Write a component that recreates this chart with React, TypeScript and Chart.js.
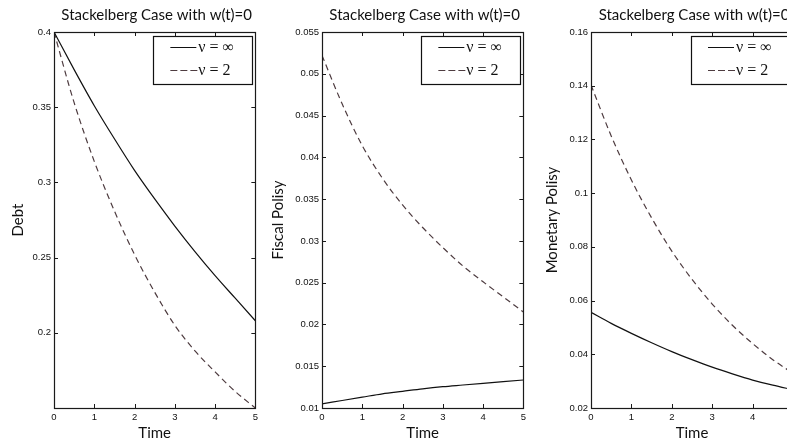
import React, { useEffect, useRef } from 'react';
import { Chart, registerables } from 'chart.js';

Chart.register(...registerables);

// ---- data ----
const TIME = [0, 0.5, 1, 1.5, 2, 2.5, 3, 3.5, 4, 4.5, 5];

const DEBT_NU_INF = [0.4, 0.375, 0.351, 0.329, 0.308, 0.289, 0.271, 0.254, 0.238, 0.223, 0.208];
const DEBT_NU_2 = [0.4, 0.353, 0.314, 0.281, 0.252, 0.227, 0.205, 0.188, 0.174, 0.161, 0.15];

const FISCAL_NU_INF = [0.0105, 0.0109, 0.0113, 0.0117, 0.012, 0.0123, 0.01255, 0.01275, 0.01295, 0.01315, 0.01335];
const FISCAL_NU_2 = [0.0522, 0.0464, 0.0414, 0.0375, 0.0343, 0.0316, 0.0292, 0.027, 0.0251, 0.0233, 0.0215];

const MONETARY_NU_INF = [0.0556, 0.0515, 0.0478, 0.0443, 0.041, 0.038, 0.0352, 0.0327, 0.0304, 0.0285, 0.0268];
const MONETARY_NU_2 = [0.1403, 0.1213, 0.1049, 0.0908, 0.0784, 0.0679, 0.0587, 0.0508, 0.044, 0.038, 0.0329];

const X_TICKS = [0, 1, 2, 3, 4, 5];
const DEBT_TICKS = [0.15, 0.2, 0.25, 0.3, 0.35, 0.4];
const DEBT_TICK_LABELS = ['', '0.2', '0.25', '0.3', '0.35', '0.4'];
const FISCAL_TICKS = [0.01, 0.015, 0.02, 0.025, 0.03, 0.035, 0.04, 0.045, 0.05, 0.055];
const FISCAL_TICK_LABELS = ['0.01', '0.015', '0.02', '0.025', '0.03', '0.035', '0.04', '0.045', '0.05', '0.055'];
const MONETARY_TICKS = [0.02, 0.04, 0.06, 0.08, 0.1, 0.12, 0.14, 0.16];
const MONETARY_TICK_LABELS = ['0.02', '0.04', '0.06', '0.08', '0.1', '0.12', '0.14', '0.16'];

const SERIES_LABELS = ['ν = ∞', 'ν = 2'];
const TITLE = 'Stackelberg Case with w(t)=0';
const X_LABEL = 'Time';
const Y_LABELS = ['Debt', 'Fiscal Polisy', 'Monetary Polisy'];

const SOLID_COLOR = '#111111';
const DASH_COLOR = '#4e3c40';
const DASH = [6, 4];

type PanelCfg = {
  left: number;
  width: number;
  yWidth: number;
  rightPad: number;
  yTitlePad: number;
  solid: number[];
  dashed: number[];
  ticks: number[];
  tickLabels: string[];
  yLabel: string;
};

const PANELS: PanelCfg[] = [
  { left: 0, width: 262, yWidth: 54, rightPad: 5, yTitlePad: 9, solid: DEBT_NU_INF, dashed: DEBT_NU_2, ticks: DEBT_TICKS, tickLabels: DEBT_TICK_LABELS, yLabel: Y_LABELS[0] },
  { left: 262, width: 268, yWidth: 60, rightPad: 4, yTitlePad: 7, solid: FISCAL_NU_INF, dashed: FISCAL_NU_2, ticks: FISCAL_TICKS, tickLabels: FISCAL_TICK_LABELS, yLabel: Y_LABELS[1] },
  { left: 530, width: 270, yWidth: 61, rightPad: 7, yTitlePad: 13, solid: MONETARY_NU_INF, dashed: MONETARY_NU_2, ticks: MONETARY_TICKS, tickLabels: MONETARY_TICK_LABELS, yLabel: Y_LABELS[2] },
];

const H = 443;

const framePlugin = {
  id: 'frameTicks',
  afterDatasetsDraw(chart: any) {
    const { ctx, chartArea } = chart;
    const { left, right, top, bottom } = chartArea;
    const x = chart.scales.x;
    const y = chart.scales.y;
    ctx.save();
    ctx.strokeStyle = '#1a1a1a';
    ctx.lineWidth = 1;
    ctx.beginPath();
    x.ticks.forEach((t: any) => {
      const px = Math.round(x.getPixelForValue(t.value)) + 0.5;
      ctx.moveTo(px, bottom);
      ctx.lineTo(px, bottom - 4);
      ctx.moveTo(px, top);
      ctx.lineTo(px, top + 4);
    });
    y.ticks.forEach((t: any) => {
      const py = Math.round(y.getPixelForValue(t.value)) + 0.5;
      ctx.moveTo(left, py);
      ctx.lineTo(left + 4, py);
      ctx.moveTo(right, py);
      ctx.lineTo(right - 4, py);
    });
    ctx.stroke();
    ctx.lineWidth = 1.2;
    ctx.strokeRect(Math.round(left) + 0.5, Math.round(top) + 0.5, Math.round(right - left), Math.round(bottom - top));
    ctx.restore();
  },
};

const legendTitlePlugin = {
  id: 'legendTitle',
  afterDraw(chart: any) {
    const { ctx, chartArea } = chart;
    const { left, right, top } = chartArea;
    ctx.save();
    // title
    ctx.fillStyle = '#111';
    ctx.font = '15px Lato, "Open Sans", sans-serif';
    ctx.textAlign = 'center';
    ctx.textBaseline = 'middle';
    ctx.fillText(TITLE, (left + right) / 2 + 2, 15);

    // legend box
    const bw = 99;
    const bh = 48;
    const bx = right - 3 - bw;
    const by = top + 4;
    ctx.fillStyle = '#ffffff';
    ctx.fillRect(bx, by, bw, bh);
    ctx.strokeStyle = '#111';
    ctx.lineWidth = 1.2;
    ctx.strokeRect(Math.round(bx) + 0.5, Math.round(by) + 0.5, bw, bh);

    const rows = [by + 11, by + 34];
    const lineX0 = bx + 17;
    const lineX1 = bx + 43;
    ctx.lineWidth = 1;
    // solid
    ctx.strokeStyle = SOLID_COLOR;
    ctx.setLineDash([]);
    ctx.beginPath();
    ctx.moveTo(lineX0, rows[0] + 0.5);
    ctx.lineTo(lineX1, rows[0] + 0.5);
    ctx.stroke();
    // dashed
    ctx.strokeStyle = DASH_COLOR;
    ctx.setLineDash([7, 3]);
    ctx.beginPath();
    ctx.moveTo(lineX0, rows[1] + 0.5);
    ctx.lineTo(lineX1 + 2, rows[1] + 0.5);
    ctx.stroke();
    ctx.setLineDash([]);

    ctx.fillStyle = '#111';
    ctx.font = '16px "Liberation Serif", "DejaVu Serif", serif';
    ctx.textAlign = 'left';
    ctx.textBaseline = 'middle';
    ctx.fillText(SERIES_LABELS[0], bx + 45, rows[0] + 1);
    ctx.fillText(SERIES_LABELS[1], bx + 45, rows[1] + 1);
    ctx.restore();
  },
};

function Panel({ cfg }: { cfg: PanelCfg }) {
  const ref = useRef<HTMLCanvasElement | null>(null);
  useEffect(() => {
    if (!ref.current) return;
    const chart = new Chart(ref.current, {
      type: 'line',
      data: {
        datasets: [
          {
            label: SERIES_LABELS[0],
            data: TIME.map((t, i) => ({ x: t, y: cfg.solid[i] })),
            borderColor: SOLID_COLOR,
            borderWidth: 1.2,
            pointRadius: 0,
            fill: false,
            cubicInterpolationMode: 'monotone',
          },
          {
            label: SERIES_LABELS[1],
            data: TIME.map((t, i) => ({ x: t, y: cfg.dashed[i] })),
            borderColor: DASH_COLOR,
            borderWidth: 1.2,
            borderDash: DASH,
            pointRadius: 0,
            fill: false,
            cubicInterpolationMode: 'monotone',
          },
        ],
      },
      options: {
        animation: false,
        responsive: false,
        maintainAspectRatio: false,
        devicePixelRatio: 1,
        layout: { padding: { left: 0, right: cfg.rightPad, top: 32, bottom: 0 } },
        plugins: {
          legend: { display: false },
          tooltip: { enabled: false },
          title: { display: false },
        },
        scales: {
          x: {
            type: 'linear',
            min: 0,
            max: 5,
            afterBuildTicks: (s: any) => {
              s.ticks = X_TICKS.map((v) => ({ value: v }));
            },
            afterFit: (s: any) => {
              s.height = 35;
            },
            grid: { display: false, drawTicks: false },
            border: { display: false },
            ticks: {
              font: { family: '"Liberation Sans", Arial, sans-serif', size: 9.5 },
              color: '#111',
              padding: 4,
              maxRotation: 0,
              autoSkip: false,
              callback: (v: any) => String(v),
            },
            title: {
              display: true,
              text: X_LABEL,
              font: { family: 'Lato, "Open Sans", sans-serif', size: 15 },
              color: '#111',
              padding: { top: 0, bottom: 1 },
            },
          },
          y: {
            type: 'linear',
            min: cfg.ticks[0],
            max: cfg.ticks[cfg.ticks.length - 1],
            afterBuildTicks: (s: any) => {
              s.ticks = cfg.ticks.map((v) => ({ value: v }));
            },
            afterFit: (s: any) => {
              s.width = cfg.yWidth;
            },
            grid: { display: false, drawTicks: false },
            border: { display: false },
            ticks: {
              font: { family: '"Liberation Sans", Arial, sans-serif', size: 9.5 },
              color: '#111',
              padding: 3,
              autoSkip: false,
              callback: (v: any) => {
                const idx = cfg.ticks.findIndex((t) => Math.abs(t - v) < 1e-9);
                return idx >= 0 ? cfg.tickLabels[idx] : '';
              },
            },
            title: {
              display: true,
              text: cfg.yLabel,
              font: { family: 'Lato, "Open Sans", sans-serif', size: 15 },
              color: '#111',
              padding: { top: cfg.yTitlePad, bottom: 0 },
            },
          },
        },
      },
      plugins: [framePlugin, legendTitlePlugin],
    } as any);
    return () => chart.destroy();
  }, [cfg]);
  return (
    <canvas
      ref={ref}
      width={cfg.width}
      height={H}
      style={{ position: 'absolute', left: cfg.left, top: 0, width: cfg.width, height: H }}
    />
  );
}

export default function App() {
  return (
    <div
      style={{
        position: 'fixed',
        left: 0,
        top: 0,
        width: 787,
        height: H,
        overflow: 'hidden',
        background: '#ffffff',
      }}
    >
      {PANELS.map((p, i) => (
        <Panel key={i} cfg={p} />
      ))}
    </div>
  );
}
